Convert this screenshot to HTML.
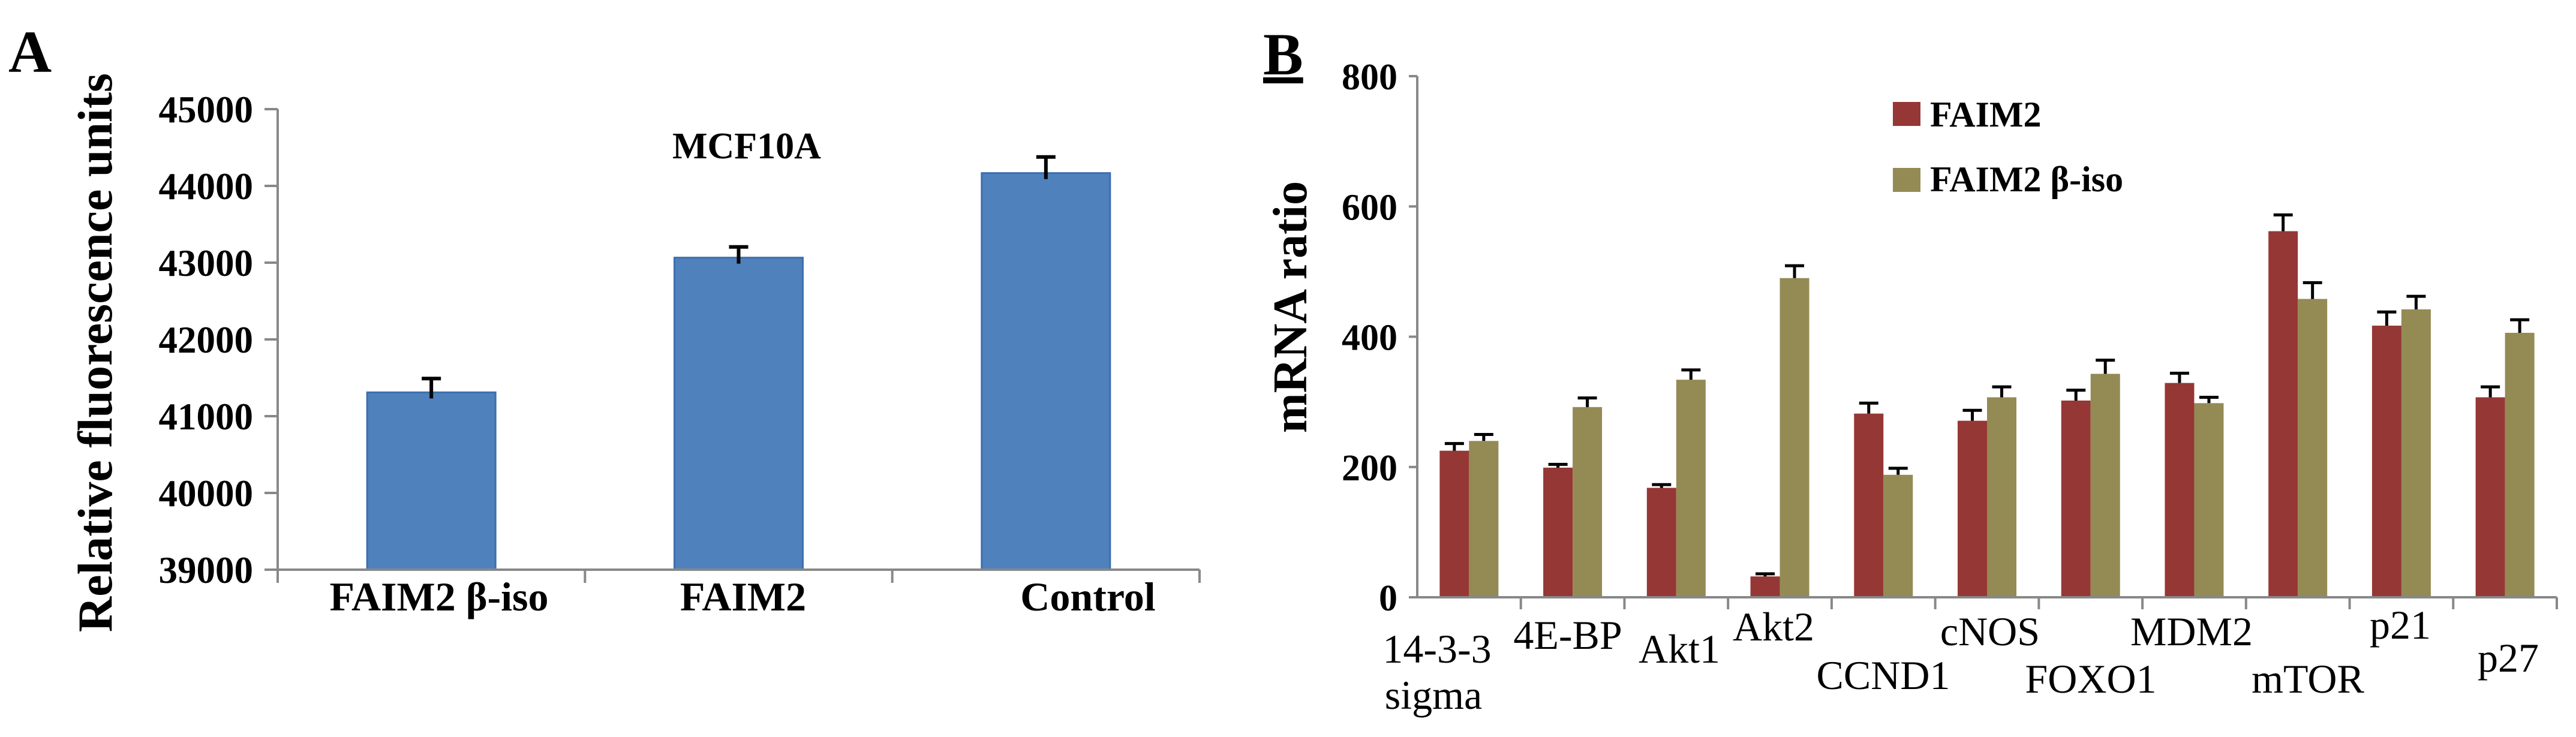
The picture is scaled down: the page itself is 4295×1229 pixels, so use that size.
<!DOCTYPE html>
<html><head><meta charset="utf-8"><style>
html,body{margin:0;padding:0;background:#fff}
svg{display:block}
text{font-family:"Liberation Serif",serif}
</style></head><body>
<svg id="s" width="4295" height="1229" viewBox="0 0 4295 1229" xmlns="http://www.w3.org/2000/svg">
<text x="14" y="120" font-size="100" font-weight="bold">A</text>
<text transform="translate(186,588) rotate(-90)" text-anchor="middle" font-size="82" font-weight="bold">Relative fluorescence units</text>
<text x="1245" y="264" text-anchor="middle" font-size="62" font-weight="bold">MCF10A</text>
<text x="2106" y="124" font-size="100" font-weight="bold" text-decoration="underline">B</text>
<text transform="translate(2178,512) rotate(-90)" text-anchor="middle" font-size="80" font-weight="bold">mRNA ratio</text>
<rect x="3156" y="170" width="46" height="40" fill="#953735"/>
<text x="3218" y="211" font-size="60" font-weight="bold">FAIM2</text>
<rect x="3156" y="280" width="46" height="40" fill="#948a54"/>
<text x="3218" y="319" font-size="60" font-weight="bold">FAIM2 β-iso</text>
<g id="ga"></g><g id="gb"></g>
</svg>
<script>
// Panel A data
const aCategories = ["FAIM2 β-iso", "FAIM2", "Control"];
const aValues = [41310, 43065, 44167];
const aErrors = [180, 140, 210];
const aTicks = [39000, 40000, 41000, 42000, 43000, 44000, 45000];
// Panel B data
const bCategories = ["14-3-3", "4E-BP", "Akt1", "Akt2", "CCND1", "cNOS", "FOXO1", "MDM2", "mTOR", "p21", "p27"];
const bFaim2 = [225, 199, 168, 32, 282, 271, 302, 329, 562, 417, 307];
const bFaim2Err = [11, 5, 5, 4, 16, 16, 16, 15, 25, 21, 16];
const bBeta = [240, 292, 334, 490, 188, 307, 343, 298, 458, 442, 406];
const bBetaErr = [10, 14, 15, 19, 10, 16, 21, 9, 25, 20, 20];
const bTicks = [0, 200, 400, 600, 800];

const NS = "http://www.w3.org/2000/svg";
function mk(tag, attrs, parent, txt) {
  const e = document.createElementNS(NS, tag);
  for (const k in attrs) e.setAttribute(k, attrs[k]);
  if (txt !== undefined) e.textContent = txt;
  parent.appendChild(e);
  return e;
}
// ---- Panel A ----
const ga = document.getElementById("ga");
const aX0 = 463, aX1 = 2000, aYtop = 182, aYbot = 950;
const ay = v => aYbot - (v - 39000) / 6000 * (aYbot - aYtop);
const aBand = (aX1 - aX0) / aCategories.length;
let ln = mk("line", {x1: aX0, y1: aYtop, x2: aX0, y2: aYbot + 22, stroke: "#888", "stroke-width": 4}, ga);


aTicks.forEach(t => {
  const tk = mk("line", {x1: aX0 - 22, y1: ay(t), x2: aX0, y2: ay(t), stroke: "#888", "stroke-width": 4}, ga);
  
  
  const tl = mk("text", {x: 422, y: ay(t) + 22, "text-anchor": "end", "font-size": 63, "font-weight": "bold"}, ga, String(t));
  
  
});
aCategories.forEach((c, i) => {
  const cx = aX0 + aBand * (i + 0.5);
  const w = 214;
  const b = mk("rect", {x: cx - w / 2, y: ay(aValues[i]), width: w, height: aYbot - ay(aValues[i]), fill: "#4f81bd", stroke: "#3d6fae", "stroke-width": 3}, ga);
  
  
  const e = mk("path", {d: `M${cx} ${ay(aValues[i]) + 10}V${ay(aValues[i] + aErrors[i])}M${cx - 16} ${ay(aValues[i] + aErrors[i])}H${cx + 16}`, stroke: "#000", "stroke-width": 6, fill: "none"}, ga);
  
  
  const lx = [732, 1239, 1814][i];
  const l = mk("text", {x: lx, y: 1018, "text-anchor": "middle", "font-size": 68, "font-weight": "bold"}, ga, c);
  
  
  const tk = mk("line", {x1: aX0 + aBand * (i + 1), y1: aYbot, x2: aX0 + aBand * (i + 1), y2: aYbot + 22, stroke: "#888", "stroke-width": 4}, ga);
  
  
});
ln = mk("line", {x1: aX0 - 22, y1: aYbot, x2: aX1, y2: aYbot, stroke: "#888", "stroke-width": 4}, ga);



// ---- Panel B ----
const gb = document.getElementById("gb");
const bX0 = 2363, bX1 = 4263, bYtop = 127, bYbot = 996;
const by = v => bYbot - v / 800 * (bYbot - bYtop);
const bBand = (bX1 - bX0) / bCategories.length;
ln = mk("line", {x1: bX0, y1: bYtop, x2: bX0, y2: bYbot, stroke: "#888", "stroke-width": 4}, gb);


bTicks.forEach(t => {
  const tk = mk("line", {x1: bX0 - 14, y1: by(t), x2: bX0, y2: by(t), stroke: "#888", "stroke-width": 4}, gb);
  
  
  const tl = mk("text", {x: 2330, y: by(t) + 22, "text-anchor": "end", "font-size": 62, "font-weight": "bold"}, gb, String(t));
  
  
});
const bLabelPos = [[2396, 1105], [2614, 1082], [2800, 1105], [2957, 1068], [3140, 1149], [3318, 1076], [3486, 1155], [3654, 1076], [3848, 1155], [4002, 1065], [4182, 1120]];
function bar(cat, x, v, err, fill, name) {
  const w = 49;
  const r = mk("rect", {x: x, y: by(v), width: w, height: bYbot - by(v), fill: fill}, gb);
  
  
  const cx = x + w / 2;
  const e = mk("path", {d: `M${cx} ${by(v)}V${by(v + err)}M${cx - 16} ${by(v + err)}H${cx + 16}`, stroke: "#000", "stroke-width": 5, fill: "none"}, gb);
  
  
}
bCategories.forEach((c, i) => {
  const cx = bX0 + bBand * (i + 0.5);
  bar(c, cx - 49, bFaim2[i], bFaim2Err[i], "#953735", 'bar-faim2-' + c);
  bar(c, cx, bBeta[i], bBetaErr[i], "#948a54", 'bar-faim2-beta-' + c);
  const tk = mk("line", {x1: bX0 + bBand * (i + 1), y1: bYbot, x2: bX0 + bBand * (i + 1), y2: bYbot + 20, stroke: "#888", "stroke-width": 4}, gb);
  
  
  const l = mk("text", {x: bLabelPos[i][0], y: bLabelPos[i][1], "text-anchor": "middle", "font-size": 68}, gb, c);
  
  
});
const sg = mk("text", {x: 2390, y: 1182, "text-anchor": "middle", "font-size": 68}, gb, "sigma");


ln = mk("line", {x1: bX0 - 14, y1: bYbot, x2: bX1, y2: bYbot, stroke: "#888", "stroke-width": 4}, gb);


</script>
</body></html>
